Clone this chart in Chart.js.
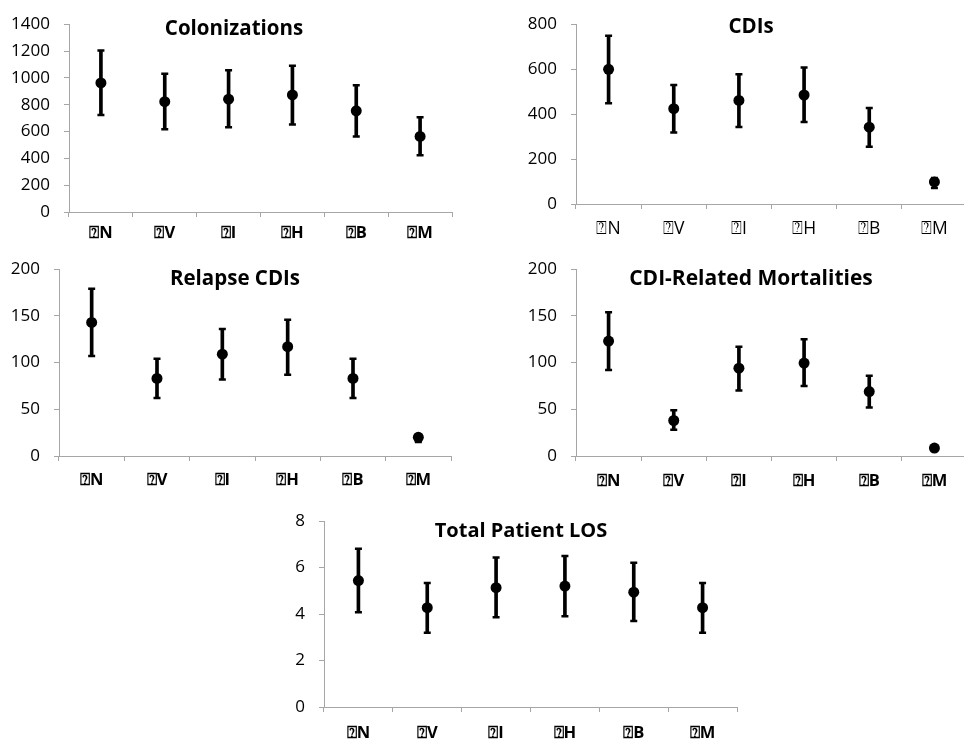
<!DOCTYPE html>
<html>
<head>
<meta charset="utf-8">
<script src="https://cdn.jsdelivr.net/npm/chart.js@4.4.1/dist/chart.umd.min.js"></script>
<style>
  body { margin:0; background:#fff; overflow:hidden; width:964px; height:743px; position:relative; }
  canvas { position:absolute; }
  .title { position:absolute; transform:translate(-50%,-50%); font-family:"Open Sans",sans-serif; font-weight:bold; font-size:20.5px; white-space:nowrap; color:#000; }
</style>
</head>
<body>
<canvas id="colon" width="470" height="250" style="left:0px;top:0px"></canvas>
<canvas id="cdi" width="500" height="250" style="left:480px;top:0px"></canvas>
<canvas id="relapse" width="470" height="250" style="left:0px;top:245px"></canvas>
<canvas id="mort" width="500" height="250" style="left:480px;top:245px"></canvas>
<canvas id="los" width="520" height="248" style="left:240px;top:495px"></canvas>

<div class="title" style="left:234px;top:27px">Colonizations</div>
<div class="title" style="left:751px;top:25px">CDIs</div>
<div class="title" style="left:235px;top:277px">Relapse CDIs</div>
<div class="title" style="left:751px;top:277px;font-size:21px">CDI-Related Mortalities</div>
<div class="title" style="left:521px;top:529px;font-size:20px">Total Patient LOS</div>

<script>
// categories (the delta sign shows as a missing-glyph box in the original)
const categories = ["⍰N","⍰V","⍰I","⍰H","⍰B","⍰M"];

// Colonizations
const colonMean = [962, 822, 841, 873, 754, 563];
const colonHigh = [1204, 1030, 1057, 1090, 945, 706];
const colonLow  = [723, 617, 631, 653, 563, 423];

// CDIs
const cdiMean = [599, 424, 461, 485, 342, 98];
const cdiHigh = [749, 530, 577, 607, 427, 116];
const cdiLow  = [448, 318, 343, 365, 255, 71];

// Relapse CDIs
const relapseMean = [143, 83, 109, 117, 83, 20];
const relapseHigh = [179, 104, 136, 146, 104, 23];
const relapseLow  = [107, 62, 82, 87, 62, 15];

// CDI-Related Mortalities
const mortMean = [123, 38, 94, 99.5, 69, 8.5];
const mortHigh = [154, 49, 117, 125, 86, 10];
const mortLow  = [92, 28, 70, 75, 52, 7];

// Total Patient LOS
const losMean = [5.44, 4.27, 5.13, 5.2, 4.94, 4.27];
const losHigh = [6.81, 5.33, 6.43, 6.5, 6.2, 5.33];
const losLow  = [4.07, 3.19, 3.86, 3.9, 3.7, 3.19];

// y axis ranges [max, step]
const colonAxis = [1400, 200];
const cdiAxis = [800, 200];
const relapseAxis = [200, 50];
const mortAxis = [200, 50];
const losAxis = [8, 2];

const axisGray = "#a6a6a6";

function makePanel(id, mean, high, low, axis, box){
  const bars = mean.map((m,i)=>[low[i], high[i]]);
  const cap = {type:"line", showLine:false, pointStyle:"line", pointRadius:3.5,
               pointBorderWidth:2.5, borderColor:"#000", backgroundColor:"#000"};
  return new Chart(document.getElementById(id), {
    data:{
      labels:categories,
      datasets:[
        {type:"line", data:mean, showLine:false, pointStyle:"circle", pointRadius:5.5,
         pointBorderWidth:0, backgroundColor:"#000", borderColor:"#000"},
        Object.assign({data:high}, cap),
        Object.assign({data:low}, cap),
        {type:"bar", data:bars, barThickness:3, backgroundColor:"#000", borderWidth:0}
      ]
    },
    options:{
      responsive:false, animation:false, events:[],
      layout:{padding:{left:0, right:box.right, top:box.top, bottom:0}},
      plugins:{legend:{display:false}, tooltip:{enabled:false}},
      scales:{
        x:{
          grid:{display:true, drawOnChartArea:false, drawTicks:true, tickLength:5, offset:true, color:axisGray},
          border:{color:axisGray, width:1},
          ticks:{color:"#000", padding:box.xPad, maxRotation:0,
                 font:{family:"Open Sans", size:box.xSize, weight:box.xWeight}},
          afterFit:s=>{ s.height = box.xHeight; }
        },
        y:{
          min:0, max:axis[0],
          grid:{display:true, drawOnChartArea:false, drawTicks:true, tickLength:5, color:axisGray},
          border:{color:axisGray, width:1},
          ticks:{stepSize:axis[1], color:"#000", padding:14,
                 font:{family:"Open Sans", size:17},
                 callback:v=>String(v)},
          afterFit:s=>{ s.width = box.yWidth; }
        }
      }
    }
  });
}

makePanel("colon", colonMean, colonHigh, colonLow, colonAxis,
  {yWidth:69, right:18, top:19, xHeight:38, xPad:6, xSize:16.5, xWeight:"bold"});
makePanel("cdi", cdiMean, cdiHigh, cdiLow, cdiAxis,
  {yWidth:96, right:13, top:16, xHeight:46, xPad:10, xSize:17.5, xWeight:"normal"});
makePanel("relapse", relapseMean, relapseHigh, relapseLow, relapseAxis,
  {yWidth:59, right:19, top:23, xHeight:39, xPad:9, xSize:16.5, xWeight:"bold"});
makePanel("mort", mortMean, mortHigh, mortLow, mortAxis,
  {yWidth:96, right:13, top:23, xHeight:39, xPad:10, xSize:16.5, xWeight:"bold"});
makePanel("los", losMean, losHigh, losLow, losAxis,
  {yWidth:84, right:23, top:26, xHeight:36, xPad:11, xSize:16.5, xWeight:"bold"});
</script>
</body>
</html>
